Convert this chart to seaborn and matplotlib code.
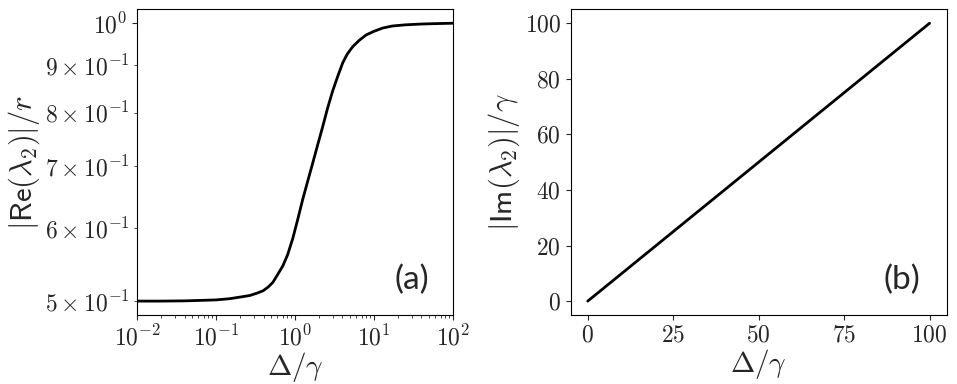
import matplotlib
matplotlib.use("Agg")
import matplotlib.pyplot as plt
import seaborn as sns
import pandas as pd

# panel (a): |Re(lambda_2)|/r vs Delta/gamma
delta_a = [0.01, 0.02, 0.04, 0.07, 0.1, 0.149, 0.2, 0.267, 0.33, 0.394, 0.46,
           0.526, 0.61, 0.703, 0.806, 0.941, 1.079, 1.258, 1.455, 1.683, 1.946,
           2.25, 2.6, 3.01, 3.5, 4.03, 4.6, 5.38, 6.5, 7.94, 10.0, 12.9, 17.0,
           25.0, 40.0, 60.0, 100.0]
re_a = [0.500, 0.500, 0.5003, 0.501, 0.5015, 0.503, 0.505, 0.507, 0.510, 0.513, 0.518,
        0.524, 0.535, 0.546, 0.561, 0.585, 0.612, 0.645, 0.675, 0.706, 0.739,
        0.773, 0.810, 0.845, 0.877, 0.906, 0.926, 0.943, 0.958, 0.971, 0.980, 0.988, 0.993,
        0.996, 0.998, 0.999, 1.0]

# panel (b): |Im(lambda_2)|/gamma vs Delta/gamma
delta_b = [0, 25, 50, 75, 100]
im_b = [0, 25, 50, 75, 100]

sns.set_style("ticks")
plt.rcParams["font.family"] = "serif"
plt.rcParams["font.serif"] = ["cmr10"]
plt.rcParams["mathtext.fontset"] = "cm"
plt.rcParams["axes.unicode_minus"] = False
plt.rcParams["axes.formatter.use_mathtext"] = True
plt.rcParams["axes.edgecolor"] = "black"

df_a = pd.DataFrame({"x": delta_a, "y": re_a})
df_b = pd.DataFrame({"x": delta_b, "y": im_b})

fig = plt.figure(figsize=(9.57, 3.84), dpi=100)
ax1 = fig.add_axes([0.1432, 0.1797, 0.330, 0.796])
ax2 = fig.add_axes([0.5963, 0.1797, 0.3929, 0.796])

# (a)
sns.lineplot(data=df_a, x="x", y="y", ax=ax1, color="black", linewidth=2)
ax1.set_xscale("log")
ax1.set_yscale("log")
ax1.set_xlim(1e-2, 1e2)
ax1.set_xlabel(r"$\Delta/\gamma$", fontsize=21, labelpad=0)
ax1.set_ylabel(r"$|\mathsf{Re}(\lambda_2)|/r$", fontsize=22, labelpad=2)
ax1.tick_params(which="both", labelsize=17)
ax1.text(0.87, 0.115, "(a)", transform=ax1.transAxes, fontsize=24,
         family="Lato", ha="center", va="center")

# (b)
sns.lineplot(data=df_b, x="x", y="y", ax=ax2, color="black", linewidth=2)
ax2.set_xticks([0, 25, 50, 75, 100])
ax2.set_yticks([0, 20, 40, 60, 80, 100])
ax2.set_xlabel(r"$\Delta/\gamma$", fontsize=21, labelpad=0)
ax2.set_ylabel(r"$|\mathsf{Im}(\lambda_2)|/\gamma$", fontsize=22, labelpad=2)
ax2.tick_params(labelsize=17)
ax2.text(0.88, 0.115, "(b)", transform=ax2.transAxes, fontsize=24,
         family="Lato", ha="center", va="center")

fig.savefig("out.png", dpi=100)
